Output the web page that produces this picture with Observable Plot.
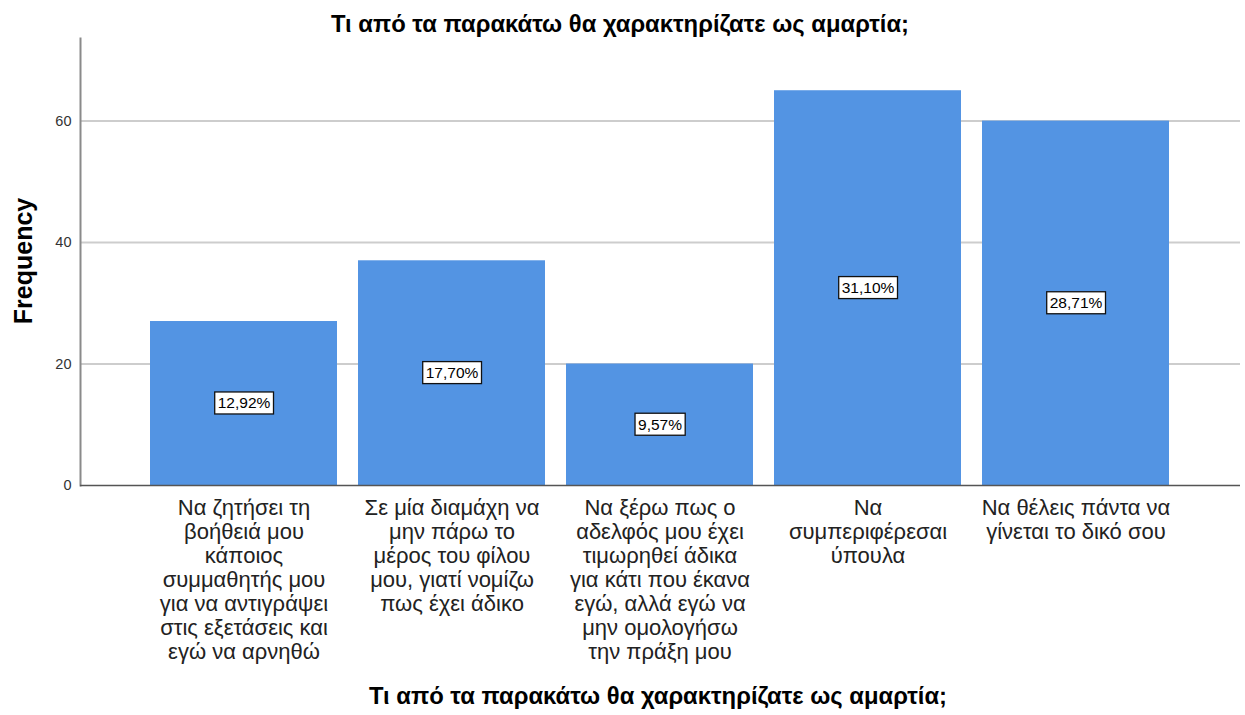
<!DOCTYPE html>
<html>
<head>
<meta charset="utf-8">
<script src="https://cdn.jsdelivr.net/npm/d3@7"></script>
<script src="https://cdn.jsdelivr.net/npm/@observablehq/plot@0.6"></script>
<style>
  body { margin: 0; background: #fff; font-family: "Liberation Sans", Arial, sans-serif; }
  #wrap { position: relative; width: 1245px; height: 715px; }
  .title { position: absolute; width: 1000px; text-align: center; font-weight: bold; font-size: 23.8px; line-height: 24px; color: #000; white-space: nowrap; }
  #ylab { position: absolute; left: 23px; top: 261px; transform: translate(-50%, -50%) rotate(-90deg); font-weight: bold; font-size: 25px; line-height: 26px; white-space: nowrap; }
  svg { position: absolute; left: 0; top: 0; }
</style>
</head>
<body>
<div id="wrap">
  <div class="title" style="top:12px; left:120px">Τι από τα παρακάτω θα χαρακτηρίζατε ως αμαρτία;</div>
  <div id="ylab">Frequency</div>
  <div class="title" style="top:684px; left:158px">Τι από τα παρακάτω θα χαρακτηρίζατε ως αμαρτία;</div>
</div>
<script>
const categories = [
  "Να ζητήσει τη\nβοήθειά μου\nκάποιος\nσυμμαθητής μου\nγια να αντιγράψει\nστις εξετάσεις και\nεγώ να αρνηθώ",
  "Σε μία διαμάχη να\nμην πάρω το\nμέρος του φίλου\nμου, γιατί νομίζω\nπως έχει άδικο",
  "Να ξέρω πως ο\nαδελφός μου έχει\nτιμωρηθεί άδικα\nγια κάτι που έκανα\nεγώ, αλλά εγώ να\nμην ομολογήσω\nτην πράξη μου",
  "Να\nσυμπεριφέρεσαι\nύπουλα",
  "Να θέλεις πάντα να\nγίνεται το δικό σου"
];
const frequencies = [27, 37, 20, 65, 60];
const percentLabels = ["12,92%", "17,70%", "9,57%", "31,10%", "28,71%"];
const yTicks = [0, 20, 40, 60];

const data = categories.map((c, i) => ({cat: c, freq: frequencies[i], pct: percentLabels[i]}));

const chart = Plot.plot({
  width: 1245,
  height: 715,
  marginTop: 38,
  marginBottom: 230,
  marginLeft: 80,
  marginRight: 5,
  style: {fontFamily: "'Liberation Sans', Arial, sans-serif", background: "transparent"},
  x: {domain: categories, paddingInner: 0.1, paddingOuter: 0.33, label: null},
  y: {domain: [0, 73.6], label: null},
  marks: [
    Plot.ruleY(yTicks.filter(d => d > 0), {stroke: "#cdcdcd", strokeWidth: 2}),
    Plot.barY(data, {x: "cat", y: "freq", fill: "#5394e3"}),
    Plot.text(data, {x: "cat", y: d => d.freq / 2, text: "pct", fontSize: 15.5, fill: "#000", className: "pctlab"}),
    Plot.axisY({ticks: yTicks, tickSize: 0, tickPadding: 9, fontSize: 14.5, fill: "#333", label: null}),
    Plot.axisX({tickSize: 0, tickPadding: 12, fontSize: 22, lineHeight: 24 / 22, fill: "#222", label: null}),
    Plot.frame({anchor: "left", stroke: "#8a8a8a", strokeWidth: 2}),
    Plot.ruleY([0], {stroke: "#555", strokeWidth: 1.3})
  ]
});
document.getElementById("wrap").appendChild(chart);

// white boxes behind percentage labels
chart.querySelectorAll(".pctlab text").forEach(t => {
  const b = t.getBBox();
  const cy = b.y + b.height / 2;
  const r = document.createElementNS("http://www.w3.org/2000/svg", "rect");
  r.setAttribute("x", b.x - 3);
  r.setAttribute("y", cy - 11);
  r.setAttribute("width", b.width + 6);
  r.setAttribute("height", 22);
  r.setAttribute("fill", "#fff");
  r.setAttribute("stroke", "#111");
  r.setAttribute("stroke-width", 1.3);
  const tr = t.getAttribute("transform");
  if (tr) r.setAttribute("transform", tr);
  t.parentNode.insertBefore(r, t);
});
</script>
</body>
</html>
